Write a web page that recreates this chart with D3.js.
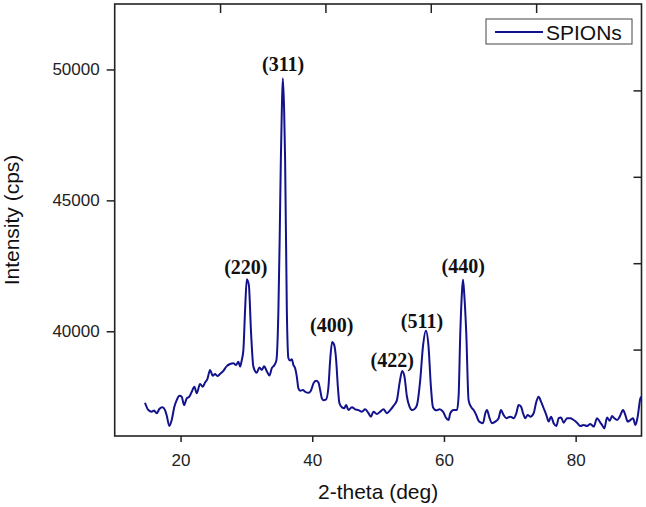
<!DOCTYPE html>
<html>
<head>
<meta charset="utf-8">
<script src="https://cdn.jsdelivr.net/npm/d3@7"></script>
<style>
  html, body { margin: 0; padding: 0; background: #fff; }
  svg { display: block; }
</style>
</head>
<body>
<svg id="chart"></svg>
<script>
  // XRD pattern
  var twoTheta = [14.60, 15.11, 15.62, 15.97, 16.38, 16.78, 17.23, 17.64, 17.90, 18.30,
    18.66, 19.06, 19.42, 19.82, 20.18, 20.53, 20.94, 21.34, 21.70, 22.10,
    22.46, 22.96, 23.37, 23.72, 24.07, 24.48, 24.89, 25.24, 25.59, 26.00,
    26.50, 27.02, 27.52, 28.02, 28.43, 28.78, 29.04, 29.30, 29.54, 29.80,
    30.06, 30.37, 30.71, 31.06, 31.58, 31.98, 32.34, 32.69, 33.10, 33.50,
    33.86, 34.26, 34.56, 34.86, 35.05, 35.23, 35.38, 35.53, 35.73, 35.88,
    36.14, 36.38, 36.64, 36.90, 37.14, 37.40, 37.66, 37.90, 38.16, 38.57,
    38.92, 39.42, 39.79, 40.18, 40.59, 40.94, 41.20, 41.46, 41.70, 42.11,
    42.46, 42.72, 43.02, 43.33, 43.63, 43.89, 44.13, 44.50, 44.85, 45.15,
    45.50, 46.02, 46.52, 47.02, 47.54, 48.04, 48.54, 48.91, 49.30, 49.82,
    50.32, 50.82, 51.34, 51.84, 52.34, 52.86, 53.25, 53.66, 54.01, 54.38,
    54.77, 55.14, 55.49, 55.90, 56.40, 56.81, 57.26, 57.66, 58.02, 58.33,
    58.83, 59.33, 59.85, 60.35, 60.70, 60.96, 61.46, 61.98, 62.22, 62.48,
    62.71, 62.89, 63.09, 63.39, 63.74, 64.10, 64.50, 64.91, 65.26, 65.62,
    65.93, 66.28, 66.53, 66.93, 67.29, 67.80, 68.30, 68.66, 69.06, 69.47,
    70.08, 70.58, 70.99, 71.34, 71.70, 72.01, 72.36, 72.71, 73.12, 73.62,
    74.03, 74.38, 74.74, 75.14, 75.55, 75.90, 76.26, 76.66, 77.07, 77.42,
    77.78, 78.18, 78.69, 79.19, 79.70, 80.21, 80.71, 81.22, 81.73, 82.23,
    82.74, 83.25, 83.65, 84.01, 84.36, 84.77, 85.17, 85.53, 85.88, 86.29,
    86.69, 87.20, 87.55, 87.90, 88.31, 88.72, 89.07, 89.42, 89.83, 90.00];

  var intensity = [37270, 36990, 36930, 36970, 36870, 37030, 37100, 36990, 36780, 36380,
    36610, 37120, 37370, 37540, 37500, 37180, 37440, 37500, 37690, 37880,
    37630, 37990, 37880, 38040, 38170, 38520, 38300, 38370, 38290, 38370,
    38490, 38670, 38750, 38780, 38710, 38840, 38650, 38900, 39280, 40810,
    41990, 41770, 39930, 38650, 38420, 38620, 38520, 38660, 38470, 38310,
    38590, 38710, 38900, 40810, 43490, 46540, 48450, 49660, 48450, 46540,
    40810, 38970, 38880, 38930, 38710, 38590, 38260, 37820, 37730, 37760,
    37690, 37650, 37730, 38010, 38110, 38040, 37760, 37440, 37370, 37400,
    37880, 38900, 39590, 39480, 38900, 37880, 37250, 37100, 37060, 37180,
    36990, 37100, 37020, 36990, 36930, 37020, 36870, 36740, 36930, 36840,
    36930, 37020, 36870, 36990, 37150, 37370, 38010, 38480, 38260, 37500,
    37120, 36990, 37020, 37180, 38140, 39410, 40020, 39410, 37880, 37100,
    36980, 37020, 36930, 36680, 36610, 36870, 36990, 36990, 37500, 39920,
    41390, 41980, 41390, 39920, 37370, 37120, 36990, 36800, 36580, 36510,
    36490, 36870, 36990, 36680, 36490, 36550, 36680, 36990, 36800, 36680,
    36740, 36680, 36870, 37180, 37120, 36870, 36680, 36800, 36740, 36870,
    37310, 37500, 37310, 37060, 36800, 36550, 36740, 36490, 36380, 36680,
    36710, 36510, 36680, 36680, 36610, 36510, 36380, 36420, 36380, 36460,
    36360, 36680, 36550, 36420, 36290, 36710, 36580, 36760, 36680, 36610,
    36740, 36990, 36800, 36550, 36610, 36680, 36420, 36740, 37440, 37500];

  // Miller indices of the reflections, anchored in data units
  var peakLabels = ['(220)', '(311)', '(400)', '(422)', '(511)', '(440)'];
  var peakLabelX = [29.92, 35.58, 42.95, 52.14, 56.66, 62.93];
  var peakLabelY = [42190, 49940, 39990, 38650, 40120, 42230];

  var xMajorTicks = [20, 40, 60, 80];
  var xMinorTicks = [30, 50, 70];
  var yMajorTicks = [40000, 45000, 50000];
  var yMinorTicks = [37500, 42500, 47500];

  var seriesName = 'SPIONs';
  var xTitle = '2-theta (deg)';
  var yTitle = 'Intensity (cps)';

  var WIDTH = 646;
  var HEIGHT = 507;
  var LEFT = 114.7, RIGHT = 641.5, TOP = 4, BOTTOM = 436;
  var LINE_COLOR = '#12128c';
  var SANS = '"Liberation Sans", Arial, sans-serif';
  var SERIF = '"Liberation Serif", "Times New Roman", serif';

  var svg = d3.select('#chart')
    .attr('width', WIDTH)
    .attr('height', HEIGHT);

  svg.append('rect')
    .attr('width', WIDTH)
    .attr('height', HEIGHT)
    .attr('fill', '#fff');

  var x = d3.scaleLinear().domain([10, 90]).range([LEFT, RIGHT]);
  var y = d3.scaleLinear().domain([36000, 52500]).range([BOTTOM, TOP]);

  // mirrored frame axes carry their own plain 0..10 tick spacing
  var xTop = d3.scaleLinear().domain([0, 10]).range([LEFT, RIGHT]);
  var yRight = d3.scaleLinear().domain([0, 10]).range([BOTTOM, TOP]);

  function noLabel() { return ''; }

  var gx = svg.append('g')
    .attr('transform', 'translate(0,' + BOTTOM + ')');
  gx.call(d3.axisBottom(x).tickValues(xMinorTicks).tickSize(4).tickFormat(noLabel));
  gx.call(d3.axisBottom(x).tickValues(xMajorTicks).tickSize(6).tickPadding(12).tickFormat(d3.format('d')));

  var gy = svg.append('g')
    .attr('transform', 'translate(' + LEFT + ',0)');
  gy.call(d3.axisLeft(y).tickValues(yMinorTicks).tickSize(4).tickFormat(noLabel));
  gy.call(d3.axisLeft(y).tickValues(yMajorTicks).tickSize(8).tickPadding(7).tickFormat(d3.format('d')));

  var gt = svg.append('g')
    .attr('transform', 'translate(0,' + TOP + ')');
  gt.call(d3.axisBottom(xTop).tickValues(d3.range(1, 10, 2)).tickSize(5).tickFormat(noLabel));
  gt.call(d3.axisBottom(xTop).tickValues(d3.range(2, 10, 2)).tickSize(9).tickFormat(noLabel));

  var gr = svg.append('g')
    .attr('transform', 'translate(' + RIGHT + ',0)');
  gr.call(d3.axisLeft(yRight).tickValues(d3.range(1, 10, 2)).tickSize(4).tickFormat(noLabel));
  gr.call(d3.axisLeft(yRight).tickValues(d3.range(2, 10, 2)).tickSize(8).tickFormat(noLabel));

  svg.selectAll('.domain').remove();
  svg.selectAll('.tick line')
    .attr('stroke', '#222')
    .attr('stroke-width', 1.5);
  svg.selectAll('.tick text')
    .attr('fill', '#222')
    .style('font-family', SANS)
    .style('font-size', '17px');

  // frame
  svg.append('rect')
    .attr('x', LEFT)
    .attr('y', TOP)
    .attr('width', RIGHT - LEFT)
    .attr('height', BOTTOM - TOP)
    .attr('fill', 'none')
    .attr('stroke', '#222')
    .attr('stroke-width', 1.6);

  var points = twoTheta.map(function(t, i) { return [t, intensity[i]]; });

  var line = d3.line()
    .x(function(d) { return x(d[0]); })
    .y(function(d) { return y(d[1]); })
    .curve(d3.curveMonotoneX);

  svg.append('path')
    .datum(points)
    .attr('d', line)
    .attr('fill', 'none')
    .attr('stroke', LINE_COLOR)
    .attr('stroke-width', 2)
    .attr('stroke-linejoin', 'round');

  svg.append('g').selectAll('text')
    .data(peakLabels)
    .enter().append('text')
    .attr('x', function(d, i) { return x(peakLabelX[i]); })
    .attr('y', function(d, i) { return y(peakLabelY[i]); })
    .attr('text-anchor', 'middle')
    .style('font-family', SERIF)
    .style('font-weight', 'bold')
    .style('font-size', '20px')
    .attr('fill', '#111')
    .text(function(d) { return d; });

  // legend
  var legend = svg.append('g');
  legend.append('rect')
    .attr('x', 486)
    .attr('y', 19)
    .attr('width', 146)
    .attr('height', 25)
    .attr('fill', '#fff')
    .attr('stroke', '#444')
    .attr('stroke-width', 1);
  legend.append('line')
    .attr('x1', 495)
    .attr('x2', 543)
    .attr('y1', 32)
    .attr('y2', 32)
    .attr('stroke', LINE_COLOR)
    .attr('stroke-width', 2);
  legend.append('text')
    .attr('x', 546)
    .attr('y', 39.5)
    .style('font-family', SANS)
    .style('font-size', '21px')
    .attr('fill', '#111')
    .text(seriesName);

  svg.append('text')
    .attr('x', (LEFT + RIGHT) / 2)
    .attr('y', 499)
    .attr('text-anchor', 'middle')
    .style('font-family', SANS)
    .style('font-size', '21px')
    .attr('fill', '#111')
    .text(xTitle);

  svg.append('text')
    .attr('transform', 'translate(19,220) rotate(-90)')
    .attr('text-anchor', 'middle')
    .style('font-family', SANS)
    .style('font-size', '21px')
    .attr('fill', '#111')
    .text(yTitle);
</script>
</body>
</html>
